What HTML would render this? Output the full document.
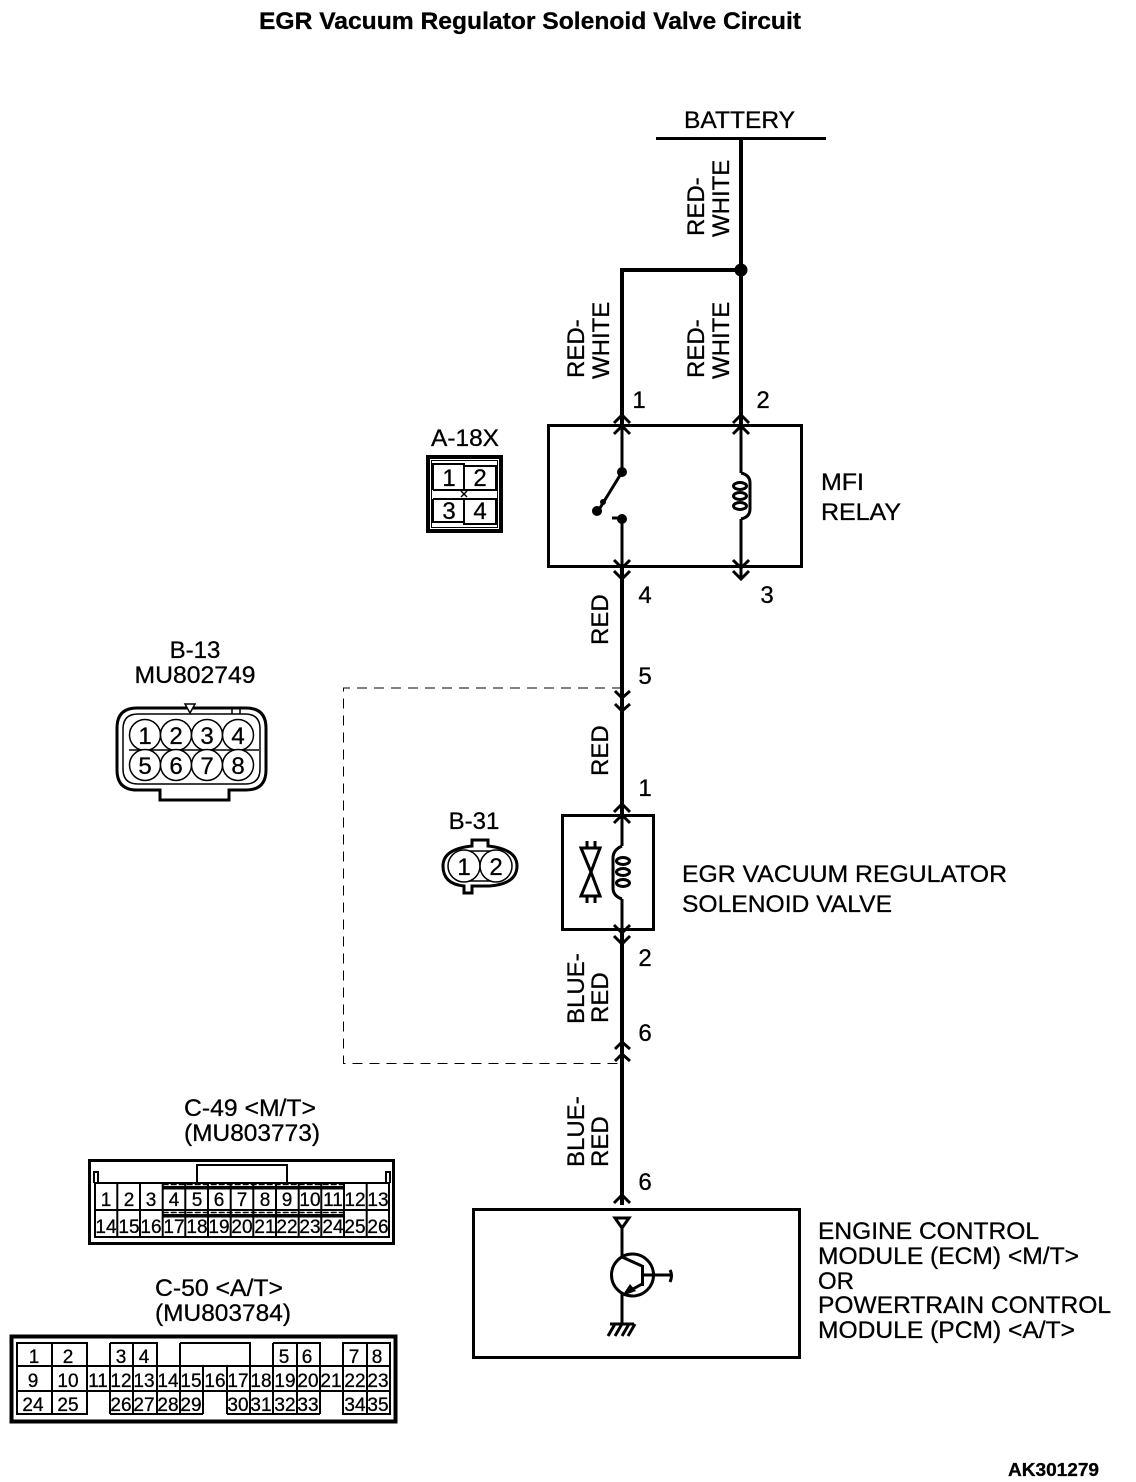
<!DOCTYPE html>
<html><head><meta charset="utf-8"><style>
html,body{margin:0;padding:0;background:#fff}
svg{display:block}
text{font-family:"Liberation Sans",sans-serif;fill:#000;stroke:#000;stroke-width:.3}
.l{font-size:24px}
.n{font-size:24px;text-anchor:middle}
.p{font-size:19px;text-anchor:middle;stroke-width:.5}
.s{fill:none;stroke:#000;stroke-width:3}
.c{fill:none;stroke:#000;stroke-width:3}
.th{fill:none;stroke:#000;stroke-width:2}
.w{fill:none;stroke:#000;stroke-width:4}
</style></head><body>
<svg width="1136" height="1482" viewBox="0 0 1136 1482" xmlns="http://www.w3.org/2000/svg">
<text x="259" y="29" class="l" font-weight="bold" textLength="542" lengthAdjust="spacingAndGlyphs">EGR Vacuum Regulator Solenoid Valve Circuit</text>

<!-- battery and wires -->
<text x="684" y="128" class="l" textLength="111" lengthAdjust="spacingAndGlyphs">BATTERY</text>
<path class="s" d="M656 138.500H826"/>
<path class="w" d="M741 138V425M622 425V270H741"/>
<circle cx="741" cy="270" r="6.500"/>
<path class="w" d="M622 566V815M622 930V1205"/>

<!-- vertical labels -->
<g class="l">
<text transform="translate(704 236) rotate(-90)">RED-</text>
<text transform="translate(729 237) rotate(-90)">WHITE</text>
<text transform="translate(584 378) rotate(-90)">RED-</text>
<text transform="translate(609 379) rotate(-90)">WHITE</text>
<text transform="translate(704 378) rotate(-90)">RED-</text>
<text transform="translate(729 379) rotate(-90)">WHITE</text>
<text transform="translate(608 645) rotate(-90)">RED</text>
<text transform="translate(608 776) rotate(-90)">RED</text>
<text transform="translate(584 1024) rotate(-90)">BLUE-</text>
<text transform="translate(608 1023) rotate(-90)">RED</text>
<text transform="translate(584 1167) rotate(-90)">BLUE-</text>
<text transform="translate(608 1167) rotate(-90)">RED</text>
</g>

<!-- pin numbers -->
<g class="n">
<text x="639" y="408">1</text><text x="763" y="408">2</text>
<text x="645" y="603">4</text><text x="767" y="603">3</text>
<text x="645" y="684">5</text><text x="645" y="796">1</text>
<text x="645" y="966">2</text><text x="645" y="1041">6</text>
<text x="645" y="1190">6</text>
</g>

<!-- relay -->
<rect class="s" x="548.500" y="425.500" width="253" height="141"/>
<path class="c" d="M614 423L622 415L630 423M614 434L622 426L630 434M733 423L741 415L749 423M733 434L741 426L749 434"/>
<path class="s" d="M622 425V472M622 519V566M741 425V473M741 519V578"/>
<path class="c" d="M614 560L622 568L630 560M614 571L622 579L630 571M733 560L741 568L749 560M733 571L741 579L749 571"/>
<circle cx="622" cy="472" r="5"/><circle cx="622" cy="519" r="5"/><circle cx="597" cy="511" r="5"/>
<circle cx="603" cy="502" r="3"/>
<path class="s" d="M622 472L600 508M612 518H618"/>
<path class="s" d="M741 473Q750 475 750 483V509Q750 517 741 519"/>
<ellipse class="s" cx="740" cy="486" rx="6.500" ry="3.500"/><ellipse class="s" cx="740" cy="496" rx="6.500" ry="3.500"/><ellipse class="s" cx="740" cy="506" rx="6.500" ry="3.500"/>
<text x="821" y="490" class="l" textLength="43" lengthAdjust="spacingAndGlyphs">MFI</text>
<text x="821" y="520" class="l" textLength="80" lengthAdjust="spacingAndGlyphs">RELAY</text>

<!-- A-18X -->
<text x="431" y="446" class="l" textLength="68" lengthAdjust="spacingAndGlyphs">A-18X</text>
<rect x="428" y="457" width="73" height="74" fill="none" stroke="#000" stroke-width="4"/>
<rect x="431.500" y="460.500" width="66" height="67" style="fill:none;stroke:#000;stroke-width:1"/>
<path class="th" d="M433 490V464H464V490M464 466H496V490H433M433 499H496V524H464V499M433 499V522H464"/>
<path d="M461 491L467 497M467 491L461 497" stroke="#000" stroke-width="1.500"/>
<g class="n"><text x="449" y="486">1</text><text x="480" y="486">2</text><text x="449" y="519">3</text><text x="480" y="519">4</text></g>

<!-- B-13 -->
<text x="195" y="658" class="l" text-anchor="middle">B-13</text>
<text x="195" y="683" class="l" text-anchor="middle" textLength="121" lengthAdjust="spacingAndGlyphs">MU802749</text>
<path class="s" d="M137 708H246Q266 708 266 728V770Q266 790 246 790H229V800H160V790H137Q117 790 117 770V728Q117 708 137 708Z"/>
<path style="fill:none;stroke:#000;stroke-width:1.500" d="M138 714H245Q260 714 260 729V769Q260 784 245 784H138Q123 784 123 769V729Q123 714 138 714ZM129 750H259M232 708H240V714H232Z"/>
<path style="fill:#fff;stroke:#000;stroke-width:1.500" d="M185 704H195L190 713Z"/>
<g style="fill:#fff;stroke:#000;stroke-width:1.500">
<circle cx="145" cy="735" r="15.500"/><circle cx="176" cy="735" r="15.500"/><circle cx="207" cy="735" r="15.500"/><circle cx="238" cy="735" r="15.500"/>
<circle cx="145" cy="765" r="15.500"/><circle cx="176" cy="765" r="15.500"/><circle cx="207" cy="765" r="15.500"/><circle cx="238" cy="765" r="15.500"/>
</g>
<g class="n"><text x="145" y="744">1</text><text x="176" y="744">2</text><text x="207" y="744">3</text><text x="238" y="744">4</text><text x="145" y="774">5</text><text x="176" y="774">6</text><text x="207" y="774">7</text><text x="238" y="774">8</text></g>

<!-- dashed box -->
<path d="M622 688H343.500V1063.500H622" fill="none" stroke="#000" stroke-width="1" stroke-dasharray="10 7"/>
<path class="c" d="M615 691L622 698L630 691M615 704L622 711L630 704M615 1049L622 1042L630 1049M615 1061L622 1054L630 1061"/>

<!-- B-31 -->
<text x="474" y="829" class="l" text-anchor="middle">B-31</text>
<path class="s" d="M472 840H488V846Q517 849 517 866Q517 884 489 886H472V893H464V886Q443 884 443 866Q443 849 472 846Z"/>
<path style="fill:none;stroke:#000;stroke-width:1.500" d="M465 851Q449 851 449 866Q449 881 465 881H495Q511 881 511 866Q511 851 495 851Z"/>
<circle cx="464" cy="866" r="16" style="fill:#fff;stroke:#000;stroke-width:1.500"/><circle cx="496" cy="866" r="16" style="fill:#fff;stroke:#000;stroke-width:1.500"/>
<g class="n"><text x="464" y="875">1</text><text x="496" y="875">2</text></g>

<!-- solenoid -->
<rect class="s" x="562.500" y="815.500" width="91" height="114"/>
<path class="c" d="M614 812L622 804L630 812M614 823L622 815L630 823M614 925L622 933L630 925M614 936L622 944L630 936"/>
<path class="s" d="M622 815V846M622 899V930"/>
<path class="s" d="M622 846Q613 850 613 858V888Q613 896 622 899"/>
<ellipse class="s" cx="623" cy="861" rx="6.500" ry="3.500"/><ellipse class="s" cx="623" cy="872" rx="6.500" ry="3.500"/><ellipse class="s" cx="623" cy="883" rx="6.500" ry="3.500"/>
<path class="s" d="M581 848H600L591 872L600 896H581L591 872ZM587 841V848M595 841V848M587 896V903M595 896V903"/>
<text x="682" y="882" class="l" textLength="325" lengthAdjust="spacingAndGlyphs">EGR VACUUM REGULATOR</text>
<text x="682" y="912" class="l" textLength="210" lengthAdjust="spacingAndGlyphs">SOLENOID VALVE</text>

<!-- C-49 -->
<text x="250" y="1116" class="l" text-anchor="middle" textLength="132" lengthAdjust="spacingAndGlyphs">C-49 &lt;M/T&gt;</text>
<text x="252" y="1141" class="l" text-anchor="middle" textLength="136" lengthAdjust="spacingAndGlyphs">(MU803773)</text>
<rect x="89.500" y="1160.500" width="304" height="83" class="s"/>
<path class="th" d="M94 1183V1172H98V1183M386 1183V1172H390V1183M197 1183V1165H287V1183"/>
<path class="th" d="M95 1183H389V1237H95ZM95 1210H389M117.300 1183V1237M140 1183V1237M162.700 1183V1237M185.300 1183V1237M208 1183V1237M230.700 1183V1237M253.300 1183V1237M276 1183V1237M298.700 1183V1237M321.300 1183V1237M344 1183V1237M366.700 1183V1237"/>
<rect x="162.700" y="1186" width="181.300" height="3.500"/>
<rect x="162.700" y="1214" width="181.300" height="3.500"/>
<path d="M162.700 1184.500H344M162.700 1212.500H344" stroke="#000" stroke-width="1.500" stroke-dasharray="6 2"/>
<g class="p">
<text x="106" y="1206">1</text><text x="129" y="1206">2</text><text x="151" y="1206">3</text><text x="174" y="1206">4</text><text x="197" y="1206">5</text><text x="219" y="1206">6</text><text x="242" y="1206">7</text><text x="265" y="1206">8</text><text x="287" y="1206">9</text><text x="310" y="1206">10</text><text x="333" y="1206">11</text><text x="355" y="1206">12</text><text x="378" y="1206">13</text>
<text x="106" y="1233">14</text><text x="129" y="1233">15</text><text x="151" y="1233">16</text><text x="174" y="1233">17</text><text x="197" y="1233">18</text><text x="219" y="1233">19</text><text x="242" y="1233">20</text><text x="265" y="1233">21</text><text x="287" y="1233">22</text><text x="310" y="1233">23</text><text x="333" y="1233">24</text><text x="355" y="1233">25</text><text x="378" y="1233">26</text>
</g>

<!-- C-50 -->
<text x="219" y="1296" class="l" text-anchor="middle" textLength="128" lengthAdjust="spacingAndGlyphs">C-50 &lt;A/T&gt;</text>
<text x="223" y="1321" class="l" text-anchor="middle" textLength="136" lengthAdjust="spacingAndGlyphs">(MU803784)</text>
<rect x="11.500" y="1336.500" width="384" height="85" style="fill:none;stroke:#000;stroke-width:4"/>
<path class="th" d="M17 1343H87V1414H17ZM52 1343V1414M17 1366H390M17 1391H390M110 1343H157V1366M110 1343V1414M133 1343V1414M157 1366V1414M180 1343H250V1366M180 1343V1414M203 1366V1414M227 1366V1414M250 1366V1414M110 1414H203M227 1414H320M273 1343H320V1414M273 1343V1414M297 1343V1414M343 1343H390V1414H343ZM367 1343V1414M87 1366V1391M180 1391V1414"/>
<g class="p">
<text x="34" y="1363">1</text><text x="68" y="1363">2</text><text x="121" y="1363">3</text><text x="144" y="1363">4</text><text x="284" y="1363">5</text><text x="307" y="1363">6</text><text x="354" y="1363">7</text><text x="377" y="1363">8</text>
<text x="33" y="1387">9</text><text x="68" y="1387">10</text><text x="98" y="1387">11</text><text x="121" y="1387">12</text><text x="144" y="1387">13</text><text x="168" y="1387">14</text><text x="191" y="1387">15</text><text x="215" y="1387">16</text><text x="238" y="1387">17</text><text x="261" y="1387">18</text><text x="285" y="1387">19</text><text x="308" y="1387">20</text><text x="331" y="1387">21</text><text x="355" y="1387">22</text><text x="378" y="1387">23</text>
<text x="33" y="1411">24</text><text x="68" y="1411">25</text><text x="121" y="1411">26</text><text x="144" y="1411">27</text><text x="168" y="1411">28</text><text x="191" y="1411">29</text><text x="238" y="1411">30</text><text x="261" y="1411">31</text><text x="285" y="1411">32</text><text x="308" y="1411">33</text><text x="355" y="1411">34</text><text x="378" y="1411">35</text>
</g>

<!-- ECM -->
<path class="c" d="M614 1203L622 1195L630 1203"/>
<rect class="s" x="473.500" y="1209.500" width="326" height="148"/>
<path class="s" d="M615 1218H629L622 1228Z"/>
<path class="s" d="M622 1228V1256M622 1294V1323M642.500 1265V1286M642 1275H670M670 1270Q673 1275 670 1282"/>
<circle class="s" cx="632.500" cy="1275" r="21"/>
<path class="s" d="M622 1257L642 1266M642 1284L626 1293"/>
<path d="M622 1296L630 1284L636 1291Z"/>
<path class="s" d="M610 1324H634M615 1324L608 1336M622 1324L615 1336M629 1324L622 1336M635 1324L628 1336"/>
<g class="l">
<text x="818" y="1239" textLength="221" lengthAdjust="spacingAndGlyphs">ENGINE CONTROL</text>
<text x="818" y="1264" textLength="261" lengthAdjust="spacingAndGlyphs">MODULE (ECM) &lt;M/T&gt;</text>
<text x="818" y="1289">OR</text>
<text x="818" y="1313" textLength="293" lengthAdjust="spacingAndGlyphs">POWERTRAIN CONTROL</text>
<text x="818" y="1338" textLength="257" lengthAdjust="spacingAndGlyphs">MODULE (PCM) &lt;A/T&gt;</text>
</g>
<text x="1008" y="1476" font-size="18" font-weight="bold" textLength="91" lengthAdjust="spacingAndGlyphs">AK301279</text>
</svg>
</body></html>
